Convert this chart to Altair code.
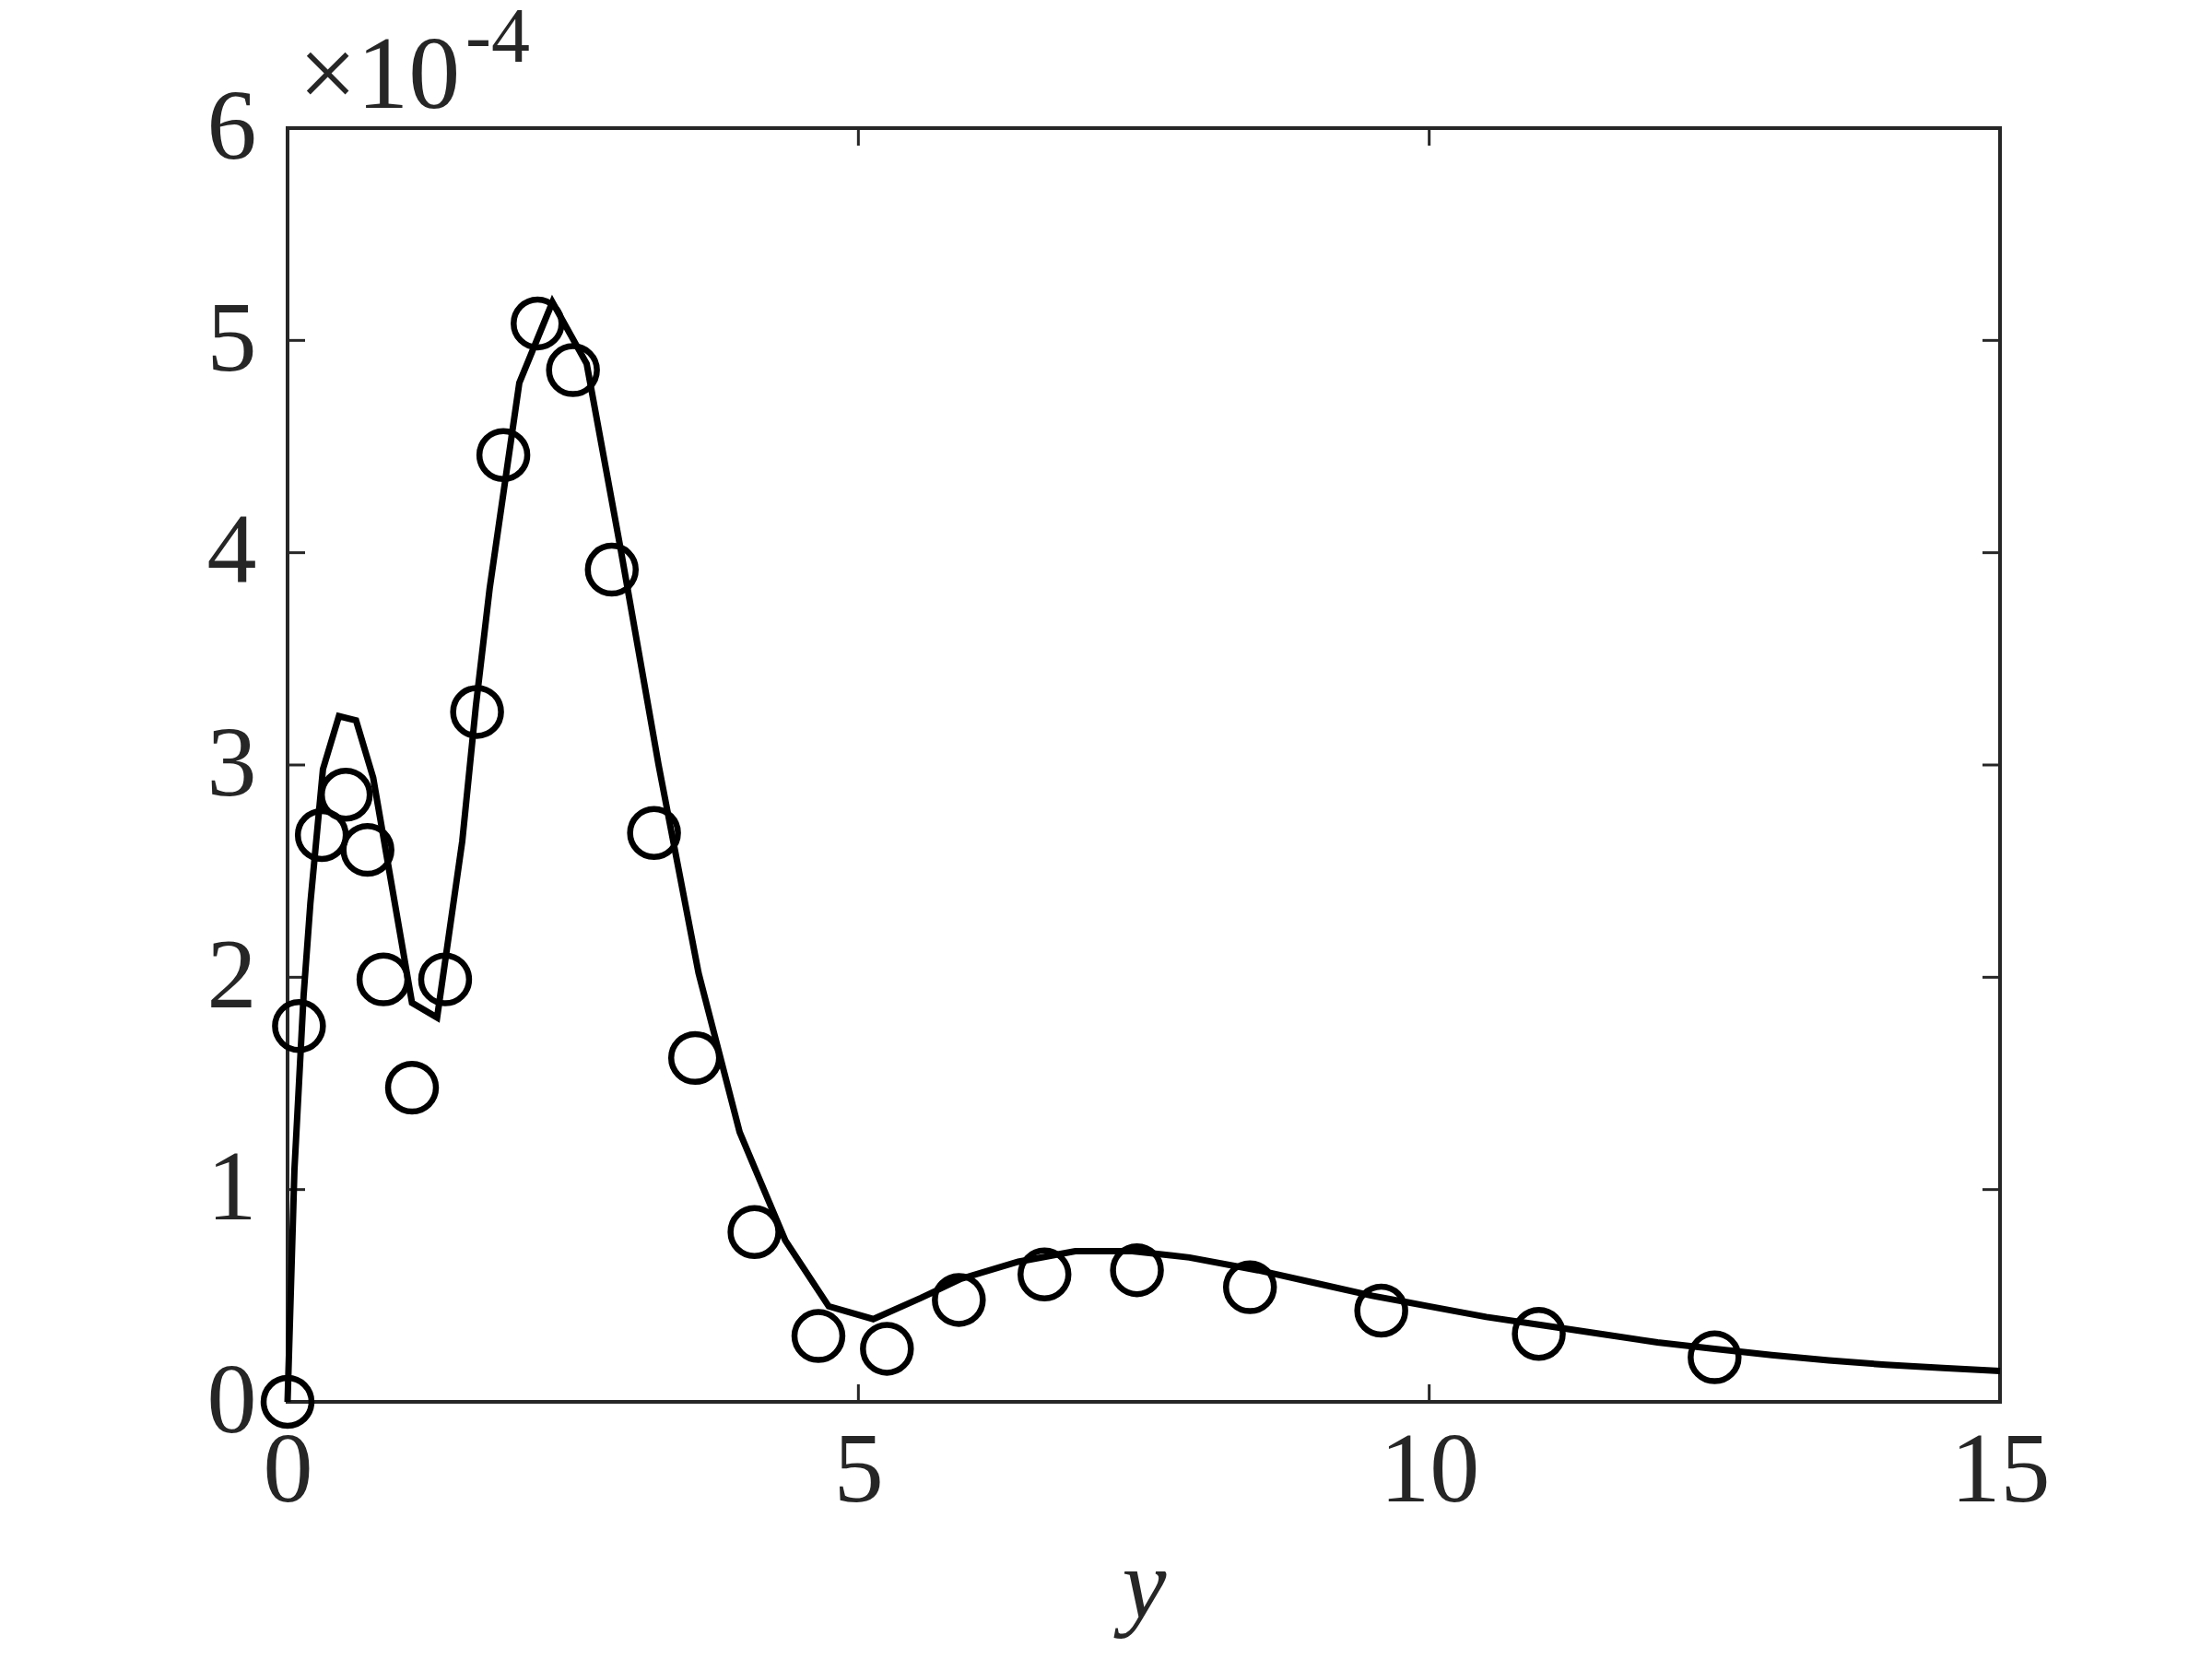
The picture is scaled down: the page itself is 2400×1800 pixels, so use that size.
import altair as alt
import pandas as pd

# Circle markers (y in units of 1e-4)
pts_x = [0.0, 0.10, 0.30, 0.51, 0.70, 0.84, 1.09, 1.38, 1.66, 1.89, 2.19, 2.50, 2.84,
         3.21, 3.57, 4.09, 4.65, 5.25, 5.88, 6.63, 7.44, 8.43, 9.58, 10.96, 12.50]
pts_y = [0.0, 1.77, 2.67, 2.86, 2.60, 1.99, 1.48, 1.99, 3.25, 4.46, 5.08, 4.86, 3.92,
         2.68, 1.62, 0.80, 0.31, 0.25, 0.48, 0.60, 0.62, 0.54, 0.43, 0.32, 0.21]

# Solid line
line_x = [0.0, 0.06, 0.14, 0.20, 0.31, 0.45, 0.60, 0.75, 1.09, 1.31, 1.53, 1.65, 1.77,
          2.03, 2.32, 2.62, 2.92, 3.25, 3.60, 3.96, 4.36, 4.74, 5.13, 5.55, 5.90, 6.40,
          6.90, 7.40, 7.90, 8.50, 9.00, 9.50, 10.0, 10.5, 11.0, 11.5, 12.0, 12.5, 13.0,
          13.5, 14.0, 14.5, 15.0]
line_y = [0.0, 1.09, 1.91, 2.35, 2.98, 3.23, 3.21, 2.94, 1.88, 1.81, 2.64, 3.28, 3.83,
          4.80, 5.18, 4.89, 4.01, 3.00, 2.02, 1.27, 0.76, 0.45, 0.39, 0.49, 0.58, 0.66,
          0.71, 0.71, 0.68, 0.62, 0.56, 0.50, 0.45, 0.40, 0.36, 0.32, 0.28, 0.25, 0.22,
          0.195, 0.175, 0.16, 0.145]

x_ticks = [0, 5, 10, 15]
y_ticks = [0, 1, 2, 3, 4, 5, 6]

W, H = 1858, 1382
FONT = "Liberation Serif, Times New Roman, serif"
AX = "#262626"
TL = 19

xs = alt.Scale(domain=[0, 15], nice=False, zero=False)
ys = alt.Scale(domain=[0, 6], nice=False, zero=False)

xaxis = alt.Axis(values=x_ticks, format="d", ticks=False, domain=False, grid=False,
                 labelFont=FONT, labelFontSize=108, labelColor=AX, labelPadding=22,
                 labelFlush=False, labelLimit=0, labelOverlap=False,
                 title="y", titleFont=FONT, titleFontSize=108, titleFontStyle="italic",
                 titleFontWeight="normal", titleColor=AX, titleX=W / 2, titleY=233,
                 titleBaseline="alphabetic", titleAlign="center")
yaxis = alt.Axis(values=y_ticks, format="d", ticks=False, domain=False, grid=False,
                 labelFont=FONT, labelFontSize=108, labelColor=AX, labelPadding=34,
                 labelFlush=False, labelLimit=0, labelOverlap=False, title=None)

pdf = pd.DataFrame({"x": pts_x, "y": pts_y})
ldf = pd.DataFrame({"x": line_x, "y": line_y})
xt = pd.DataFrame({"v": x_ticks})
yt = pd.DataFrame({"v": y_ticks})

points = alt.Chart(pdf).mark_point(shape="circle", filled=False, size=2700,
                                   strokeWidth=6.5, color="black", opacity=1).encode(
    x=alt.X("x:Q", scale=xs, axis=xaxis),
    y=alt.Y("y:Q", scale=ys, axis=yaxis),
)

line = alt.Chart(ldf).mark_line(color="black", strokeWidth=7, strokeJoin="miter").encode(
    x=alt.X("x:Q", scale=xs),
    y=alt.Y("y:Q", scale=ys),
    order="x:Q",
)

tick_style = dict(color=AX, strokeWidth=3)
bt = alt.Chart(xt).mark_rule(**tick_style).encode(
    x=alt.X("v:Q", scale=xs), y=alt.value(H), y2=alt.value(H - TL))
tt = alt.Chart(xt).mark_rule(**tick_style).encode(
    x=alt.X("v:Q", scale=xs), y=alt.value(0), y2=alt.value(TL))
lt = alt.Chart(yt).mark_rule(**tick_style).encode(
    y=alt.Y("v:Q", scale=ys), x=alt.value(0), x2=alt.value(TL))
rt = alt.Chart(yt).mark_rule(**tick_style).encode(
    y=alt.Y("v:Q", scale=ys), x=alt.value(W), x2=alt.value(W - TL))

box_style = dict(color=AX, strokeWidth=4, strokeCap="square")
b_bottom = alt.Chart(pd.DataFrame({"k": [0]})).mark_rule(**box_style).encode(
    x=alt.value(0), x2=alt.value(W), y=alt.value(H))
b_top = alt.Chart(pd.DataFrame({"k": [0]})).mark_rule(**box_style).encode(
    x=alt.value(0), x2=alt.value(W), y=alt.value(0))
b_left = alt.Chart(pd.DataFrame({"k": [0]})).mark_rule(**box_style).encode(
    y=alt.value(0), y2=alt.value(H), x=alt.value(0))
b_right = alt.Chart(pd.DataFrame({"k": [0]})).mark_rule(**box_style).encode(
    y=alt.value(0), y2=alt.value(H), x=alt.value(W))

mult = alt.Chart(pd.DataFrame({"t": ["×10"]})).mark_text(
    font=FONT, fontSize=112, color=AX, align="left", baseline="alphabetic").encode(
    text="t:N", x=alt.value(12), y=alt.value(-22))
expo = alt.Chart(pd.DataFrame({"t": ["-4"]})).mark_text(
    font=FONT, fontSize=84, color=AX, align="left", baseline="alphabetic").encode(
    text="t:N", x=alt.value(193), y=alt.value(-72))

chart = alt.layer(b_bottom, b_top, b_left, b_right, bt, tt, lt, rt,
                  points, line, mult, expo).properties(
    width=W, height=H,
    autosize=alt.AutoSizeParams(type="none"),
    padding={"left": 304, "top": 131, "right": 222, "bottom": 271},
).configure_view(stroke=None).configure(background="white")

chart.save("out.html", embed_options={"renderer": "svg", "actions": False})
